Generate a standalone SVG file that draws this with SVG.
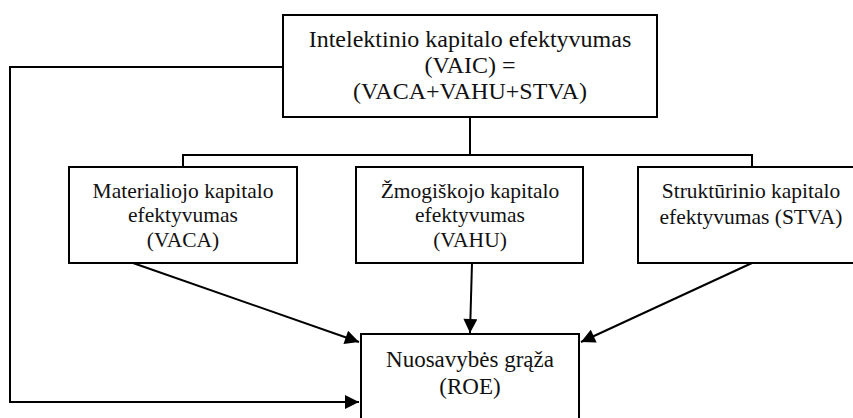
<svg xmlns="http://www.w3.org/2000/svg" width="853" height="418" viewBox="0 0 853 418">
<style>
.box{fill:#fff;stroke:#000;stroke-width:2}
.ln{fill:none;stroke:#000;stroke-width:2}
.t{font-family:'Liberation Serif','DejaVu Serif',serif;fill:#111;text-anchor:middle}
.big{font-size:24px}
.mid{font-size:21.5px}
.roe{font-size:23px}
</style>
<defs>
<marker id="ah" viewBox="0 0 10 10" refX="10" refY="5" markerWidth="16" markerHeight="14" markerUnits="userSpaceOnUse" orient="auto">
<path d="M0,0 L10,5 L0,10 Z" fill="#000"/>
</marker>
</defs>
<rect width="853" height="418" fill="#fff"/>
<g id="connectors">
<path class="ln" d="M283,67 H10 V402 H359" marker-end="url(#ah)"/>
<path class="ln" d="M470,117 V155"/>
<path class="ln" d="M183,167 V155 H752 V167"/>
<path class="ln" d="M133,263 L359,342" marker-end="url(#ah)"/>
<path class="ln" d="M472,263 L470,333" marker-end="url(#ah)"/>
<path class="ln" d="M752,263 L581,342" marker-end="url(#ah)"/>
</g>
<g id="vaic">
<rect class="box" x="283" y="15" width="374" height="102"/>
<text class="t big" x="470" y="47">Intelektinio kapitalo efektyvumas</text>
<text class="t big" x="470" y="73">(VAIC) =</text>
<text class="t big" x="470" y="99">(VACA+VAHU+STVA)</text>
</g>
<g id="vaca">
<rect class="box" x="69" y="167" width="228" height="96"/>
<text class="t mid" x="183" y="198">Materialiojo kapitalo</text>
<text class="t mid" x="183" y="222">efektyvumas</text>
<text class="t mid" x="183" y="247">(VACA)</text>
</g>
<g id="vahu">
<rect class="box" x="356" y="167" width="227" height="96"/>
<text class="t mid" x="470" y="198">Žmogiškojo kapitalo</text>
<text class="t mid" x="470" y="222">efektyvumas</text>
<text class="t mid" x="470" y="247">(VAHU)</text>
</g>
<g id="stva">
<rect class="box" x="638" y="167" width="228" height="96"/>
<text class="t mid" x="751" y="198">Struktūrinio kapitalo</text>
<text class="t mid" x="751" y="224">efektyvumas (STVA)</text>
</g>
<g id="roe">
<rect class="box" x="361" y="334" width="218" height="90"/>
<text class="t roe" x="470" y="367">Nuosavybės grąža</text>
<text class="t roe" x="470" y="394">(ROE)</text>
</g>
</svg>
